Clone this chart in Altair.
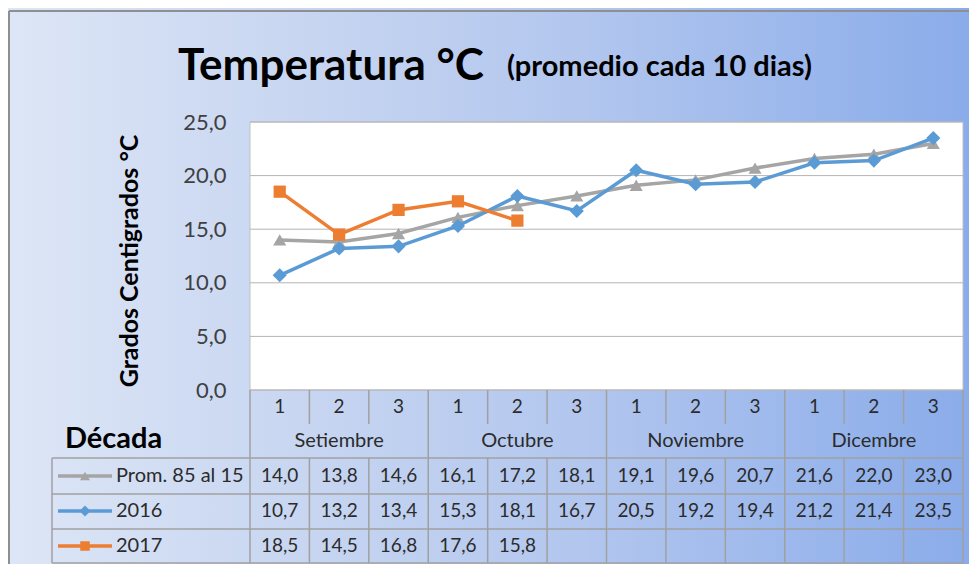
import altair as alt
import pandas as pd

# ---------------- data ----------------
decadas = ["1", "2", "3"] * 4
meses = ["Setiembre"] * 3 + ["Octubre"] * 3 + ["Noviembre"] * 3 + ["Dicembre"] * 3
mes_nombres = ["Setiembre", "Octubre", "Noviembre", "Dicembre"]
series_names = ["Prom. 85 al 15", "2016", "2017"]
prom = [14.0, 13.8, 14.6, 16.1, 17.2, 18.1, 19.1, 19.6, 20.7, 21.6, 22.0, 23.0]
y2016 = [10.7, 13.2, 13.4, 15.3, 18.1, 16.7, 20.5, 19.2, 19.4, 21.2, 21.4, 23.5]
y2017 = [18.5, 14.5, 16.8, 17.6, 15.8]
y_ticks = [0, 5, 10, 15, 20, 25]
series_values = [prom, y2016, y2017]

colors = ["#a5a5a5", "#5b9bd5", "#ed7d31"]
shapes = ["triangle-up", "diamond", "square"]
marker_sizes = [170, 200, 150]

FONT = "Lato"
TXT = "#2b2b2b"
GRID = "#b4b4b4"
TBL = "#a0a0a0"

W, H = 713, 268
PLOT_X, PLOT_Y = 250, 122  # page position of plot area


def px(x):
    return x - PLOT_X


def py(y):
    return y - PLOT_Y


n = len(decadas)
xscale = alt.Scale(domain=[0, n], nice=False, zero=False)
yscale = alt.Scale(domain=[0, 25], nice=False)

one = pd.DataFrame({"a": [0]})

cat_df = pd.DataFrame({"pos": [i + 0.5 for i in range(n)], "decada": decadas, "mes": meses})
mes_df = (cat_df.groupby("mes", sort=False)["pos"].mean().reset_index())
bounds_df = pd.DataFrame({"b": list(range(n + 1))})
month_bounds = [0] + [i + 1 for i in range(n - 1) if meses[i] != meses[i + 1]] + [n]
mbounds_df = pd.DataFrame({"b": month_bounds})
grid_df = pd.DataFrame({"v": y_ticks})

layers = []

# background gradient
grad = alt.LinearGradient(
    gradient="linear",
    stops=[
        alt.GradientStop(offset=0, color="#dde6f6"),
        alt.GradientStop(offset=0.3, color="#c8d6f1"),
        alt.GradientStop(offset=0.6, color="#b2c6ee"),
        alt.GradientStop(offset=1, color="#8aacea"),
    ],
    x1=0, x2=1, y1=0, y2=0,
)
layers.append(alt.Chart(one).mark_rect(fill=grad).encode(
    x=alt.value(px(8)), x2=alt.value(px(969)), y=alt.value(py(8)), y2=alt.value(py(564))))
# frame lines
layers.append(alt.Chart(one).mark_rule(color="#8f8f8f", strokeWidth=2).encode(
    x=alt.value(px(9)), x2=alt.value(px(969)), y=alt.value(py(11))))
layers.append(alt.Chart(one).mark_rule(color="#8f8f8f", strokeWidth=2).encode(
    x=alt.value(px(9)), y=alt.value(py(11)), y2=alt.value(py(564))))

# plot area
layers.append(alt.Chart(one).mark_rect(fill="white", stroke="#c0c0c0", strokeWidth=1).encode(
    x=alt.value(0), x2=alt.value(W), y=alt.value(0), y2=alt.value(H)))

# gridlines
layers.append(alt.Chart(grid_df).mark_rule(color=GRID, strokeWidth=1).encode(
    y=alt.Y("v:Q", scale=yscale,
            axis=alt.Axis(values=y_ticks, grid=False, domain=False, ticks=False,
                          labelExpr="replace(format(datum.value, '.1f'), '.', ',')",
                          labelFont=FONT, labelFontSize=22, labelColor="#404040",
                          labelPadding=24, title=None, zindex=1))))

# titles
layers.append(alt.Chart(one).mark_text(font=FONT, fontSize=44, fontWeight="bold", color="black",
                                       align="left", baseline="alphabetic").encode(
    x=alt.value(px(178)), y=alt.value(py(80)), text=alt.value("Temperatura °C")))
layers.append(alt.Chart(one).mark_text(font=FONT, fontSize=29, fontWeight="bold", color="black",
                                       align="left", baseline="alphabetic").encode(
    x=alt.value(px(507)), y=alt.value(py(76)), text=alt.value("(promedio cada 10 dias)")))
layers.append(alt.Chart(one).mark_text(font=FONT, fontSize=25, fontWeight="bold", color="black",
                                       align="center", baseline="alphabetic", angle=270).encode(
    x=alt.value(px(138)), y=alt.value(py(261)), text=alt.value("Grados Centigrados °C")))

# table: vertical lines
layers.append(alt.Chart(bounds_df).mark_rule(color=TBL, strokeWidth=1.5).encode(
    x=alt.X("b:Q", scale=xscale, axis=None), y=alt.value(py(390)), y2=alt.value(py(424))))
layers.append(alt.Chart(mbounds_df).mark_rule(color=TBL, strokeWidth=1.5).encode(
    x=alt.X("b:Q", scale=xscale, axis=None), y=alt.value(py(424)), y2=alt.value(py(458))))
layers.append(alt.Chart(bounds_df).mark_rule(color=TBL, strokeWidth=1.5).encode(
    x=alt.X("b:Q", scale=xscale, axis=None), y=alt.value(py(458)), y2=alt.value(py(563))))
layers.append(alt.Chart(one).mark_rule(color=TBL, strokeWidth=1.5).encode(
    x=alt.value(px(52)), y=alt.value(py(458)), y2=alt.value(py(563))))
for yy in [458, 494, 529, 563]:
    layers.append(alt.Chart(one).mark_rule(color=TBL, strokeWidth=1.5).encode(
        x=alt.value(px(52)), x2=alt.value(W), y=alt.value(py(yy))))

# table: header text
layers.append(alt.Chart(cat_df).mark_text(font=FONT, fontSize=19, color=TXT).encode(
    x=alt.X("pos:Q", scale=xscale, axis=None), y=alt.value(py(407)), text="decada:N"))
layers.append(alt.Chart(mes_df).mark_text(font=FONT, fontSize=20, color=TXT).encode(
    x=alt.X("pos:Q", scale=xscale, axis=None), y=alt.value(py(441)), text="mes:N"))
layers.append(alt.Chart(one).mark_text(font=FONT, fontSize=29, fontWeight="bold", color="black",
                                       align="left", baseline="middle").encode(
    x=alt.value(px(65)), y=alt.value(py(439)), text=alt.value("Década")))

row_centers = [476, 511, 546]
for k, (name, vals) in enumerate(zip(series_names, series_values)):
    df = pd.DataFrame({"pos": [i + 0.5 for i in range(len(vals))], "valor": vals})
    layers.append(alt.Chart(df).transform_calculate(
        lbl="replace(format(datum.valor, '.1f'), '.', ',')").mark_text(
        font=FONT, fontSize=19, color=TXT).encode(
        x=alt.X("pos:Q", scale=xscale, axis=None), y=alt.value(py(row_centers[k])), text="lbl:N"))
    # legend key in table
    layers.append(alt.Chart(one).mark_rule(color=colors[k], strokeWidth=3.5).encode(
        x=alt.value(px(58)), x2=alt.value(px(112)), y=alt.value(py(row_centers[k]))))
    layers.append(alt.Chart(one).mark_point(shape=shapes[k], filled=True, opacity=1,
                                            color=colors[k], size=marker_sizes[k] * 0.6).encode(
        x=alt.value(px(85)), y=alt.value(py(row_centers[k]))))
    layers.append(alt.Chart(one).mark_text(font=FONT, fontSize=20, color=TXT, align="left").encode(
        x=alt.value(px(116)), y=alt.value(py(row_centers[k])), text=alt.value(name)))

# series lines + markers
for k, (name, vals) in enumerate(zip(series_names, series_values)):
    df = pd.DataFrame({"pos": [i + 0.5 for i in range(len(vals))], "valor": vals})
    base = alt.Chart(df).encode(
        x=alt.X("pos:Q", scale=xscale, axis=None),
        y=alt.Y("valor:Q", scale=yscale))
    layers.append(base.mark_line(color=colors[k], strokeWidth=3.5))
    layers.append(base.mark_point(shape=shapes[k], filled=True, opacity=1,
                                  color=colors[k], size=marker_sizes[k]))

chart = alt.layer(*layers).properties(
    width=W, height=H,
    padding={"left": PLOT_X - 8, "top": PLOT_Y - 8, "right": 961 - (PLOT_X - 8) - W,
             "bottom": 556 - (PLOT_Y - 8) - H},
    autosize=alt.AutoSizeParams(type="none"),
    background="#c8d6f1",
).configure_view(strokeWidth=0)

chart.save("out.html", embed_options={"renderer": "svg", "actions": False})
